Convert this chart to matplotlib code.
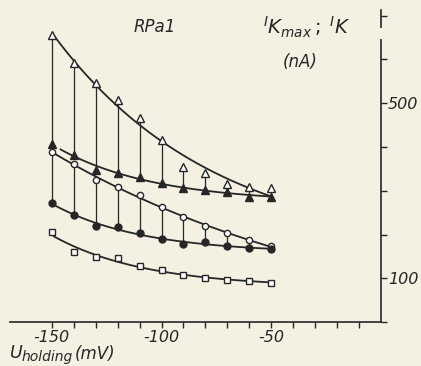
import numpy as np
import matplotlib
matplotlib.use("Agg")
import matplotlib.pyplot as plt

# holding potential (mV)
u_hold = np.array([-150, -140, -130, -120, -110, -100, -90, -80, -70, -60, -50])

# currents (nA)
ik_max_a = np.array([656, 592, 546, 507, 466, 416, 354, 341, 315, 309, 306])   # open triangles
ik_a = np.array([407, 382, 347, 341, 331, 318, 306, 302, 297, 286, 286])       # filled triangles
ik_max_b = np.array([389, 361, 325, 309, 290, 263, 240, 219, 203, 187, 173])   # open circles
ik_b = np.array([272, 245, 219, 217, 203, 190, 178, 183, 174, 169, 166])       # filled circles
ik_c = np.array([206, 160, 149, 146, 128, 119, 107, 101, 96, 94, 89])          # open squares

x_ticks = np.arange(-150, 0, 10)
x_labels = {-150: "-150", -100: "-100", -50: "-50"}
y_ticks = np.arange(0, 800, 100)
y_labels = {100: "100", 500: "500"}

bg = "#f5f1e2"
ink = "#262626"

plt.rcParams["font.family"] = "DejaVu Sans"
plt.rcParams["mathtext.fontset"] = "dejavusans"

fig = plt.figure(figsize=(4.21, 3.66), dpi=100, facecolor=bg)
ax = fig.add_axes([0.024, 0.12, 0.881, 0.853], facecolor=bg)


def exp_fit(x, y, x0, x1):
    # y = c + a*exp(-k*(x+150)), k by grid search, a and c by least squares
    best = None
    for k in np.linspace(0.002, 0.2, 500):
        A = np.column_stack([np.ones_like(x, dtype=float), np.exp(-k * (x + 150))])
        coef, *_ = np.linalg.lstsq(A, y, rcond=None)
        err = np.sum((A @ coef - y) ** 2)
        if best is None or err < best[0]:
            best = (err, k, coef)
    _, k, (c, a) = best
    xs = np.linspace(x0, x1, 200)
    return xs, c + a * np.exp(-k * (xs + 150))


# fitted curves
for yy, x0 in [(ik_max_a, -149), (ik_a, -146), (ik_max_b, -150), (ik_b, -150), (ik_c, -149)]:
    xs, ys = exp_fit(u_hold, yy, x0, -50)
    ax.plot(xs, ys, color=ink, lw=1.3, zorder=2)

# vertical connectors
ax.vlines(u_hold, ik_a, ik_max_a, color=ink, lw=0.9, zorder=1)
ax.vlines(u_hold, ik_b, ik_max_b, color=ink, lw=0.9, zorder=1)

ax.plot(u_hold, ik_max_a, ls="none", marker="^", ms=5.5, mfc="white", mec=ink, mew=1.0, zorder=3)
ax.plot(u_hold, ik_a, ls="none", marker="^", ms=5.5, mfc=ink, mec=ink, zorder=3)
ax.plot(u_hold, ik_max_b, ls="none", marker="o", ms=4.5, mfc="white", mec=ink, mew=1.0, zorder=3)
ax.plot(u_hold, ik_b, ls="none", marker="o", ms=5, mfc=ink, mec=ink, zorder=3)
ax.plot(u_hold, ik_c, ls="none", marker="s", ms=4.5, mfc="white", mec=ink, mew=1.0, zorder=3)

ax.set_xlim(-169, 0)
ax.set_ylim(0, 713)

for s in ["top", "left"]:
    ax.spines[s].set_visible(False)
for s in ["bottom", "right"]:
    ax.spines[s].set_color(ink)
    ax.spines[s].set_linewidth(1.2)

ax.yaxis.tick_right()
ax.set_xticks(x_ticks)
ax.set_xticklabels([x_labels.get(v, "") for v in x_ticks])
ax.set_yticks(y_ticks)
ax.set_yticklabels([y_labels.get(v, "") for v in y_ticks])
ax.tick_params(axis="both", colors=ink, length=4, width=1.0, labelsize=11.5)
ax.tick_params(axis="x", pad=2)
ax.tick_params(axis="y", pad=1)
for lab in ax.get_xticklabels() + ax.get_yticklabels():
    lab.set_fontstyle("italic")

# small break near the top of the current axis
ax.plot([0, 0], [651, 667], color=bg, lw=3, zorder=5, clip_on=False)

fig.text(155 / 421, 1 - 27 / 366, "RPa1", fontsize=12, style="italic", color=ink,
         ha="center", va="center")
fig.text(307 / 421, 1 - 27 / 366, r"$^{I}K_{max}\,;\;^{I}K$", fontsize=14, color=ink,
         ha="center", va="center")
fig.text(300 / 421, 1 - 62 / 366, "(nA)", fontsize=12, style="italic", color=ink,
         ha="center", va="center")

# axis title: U with subscript "holding"
fig.text(10 / 421, 1 - 358 / 366, "U", fontsize=12.5, style="italic", color=ink,
         ha="left", va="baseline")
fig.text(22 / 421, 1 - 361 / 366, "holding", fontsize=10, style="italic", color=ink,
         ha="left", va="baseline")
fig.text(75 / 421, 1 - 359 / 366, "(mV)", fontsize=12, style="italic", color=ink,
         ha="left", va="baseline")

fig.savefig("out.png", dpi=100, facecolor=bg)
